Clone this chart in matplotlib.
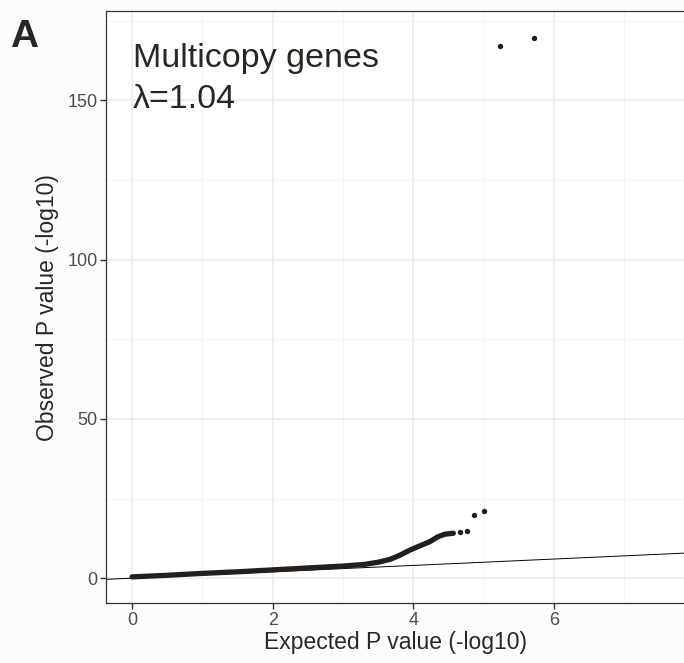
import matplotlib
matplotlib.use("Agg")
import matplotlib.pyplot as plt
from matplotlib.ticker import MultipleLocator

plt.rcParams['font.family'] = ['Liberation Sans', 'DejaVu Sans']

# dense part of the QQ curve (expected, observed)
body_expected = [0.0, 0.5, 1.0, 1.5, 2.0, 2.5, 3.0, 3.3, 3.5, 3.67, 3.81, 3.95, 4.1, 4.24, 4.35, 4.45, 4.57]
body_observed = [0.4, 0.9, 1.5, 2.0, 2.6, 3.2, 3.8, 4.3, 5.0, 5.9, 7.2, 8.8, 10.2, 11.5, 13.0, 13.8, 14.1]

# separate points in the tail
tail_expected = [4.67, 4.76, 4.86, 5.01, 5.23, 5.71]
tail_observed = [14.6, 14.8, 19.8, 21.1, 167.0, 169.5]

x_ticks = [0, 2, 4, 6]
y_ticks = [0, 50, 100, 150]
label = "Multicopy genes\nλ=1.04"

dot = '#241f1b'
grey = '#4d4d4d'
dark = '#2a2622'

fig = plt.figure(figsize=(6.84, 6.63), dpi=100)
fig.patch.set_facecolor('#fbfcfd')
ax = fig.add_axes([0.155, 0.09, 0.845, 0.8934])
ax.set_facecolor('white')

ax.set_xlim(-0.37, 7.85)
ax.set_ylim(-7.9, 178)

# reference line y = x
ax.axline((0, 0), slope=1, color='black', lw=0.7, zorder=2)

ax.plot(body_expected, body_observed, color=dot, lw=3.8,
        solid_capstyle='round', solid_joinstyle='round', zorder=3)
ax.scatter(tail_expected, tail_observed, s=15, color=dot, lw=0, zorder=3)

ax.set_xticks(x_ticks)
ax.set_yticks(y_ticks)
ax.xaxis.set_minor_locator(MultipleLocator(1))
ax.yaxis.set_minor_locator(MultipleLocator(25))
ax.grid(True, which='major', color='#ebebeb', lw=1.1, zorder=0)
ax.grid(True, which='minor', color='#f3f3f3', lw=0.6, zorder=0)
ax.set_axisbelow(True)

ax.tick_params(which='major', direction='out', length=4, width=1.0, color='#333333',
               labelsize=13, labelcolor=grey, pad=2)
ax.tick_params(which='minor', length=0)

for side in ['left', 'top', 'bottom']:
    ax.spines[side].set_color('#333333')
    ax.spines[side].set_linewidth(0.9)
ax.spines['right'].set_visible(False)

ax.set_xlabel('Expected P value (-log10)', fontsize=16.5, color=dark, labelpad=2)
ax.set_ylabel('Observed P value (-log10)', fontsize=16.5, color=dark, labelpad=6)

fig.text(133 / 684, 1 - 43 / 663, label, fontsize=24.5, color=dark,
         ha='left', va='top', linespacing=1.4)
fig.text(0.014, 0.972, 'A', fontsize=28, fontweight='bold', color=dark,
         ha='left', va='top')

fig.savefig('out.png', dpi=100, facecolor=fig.get_facecolor())
